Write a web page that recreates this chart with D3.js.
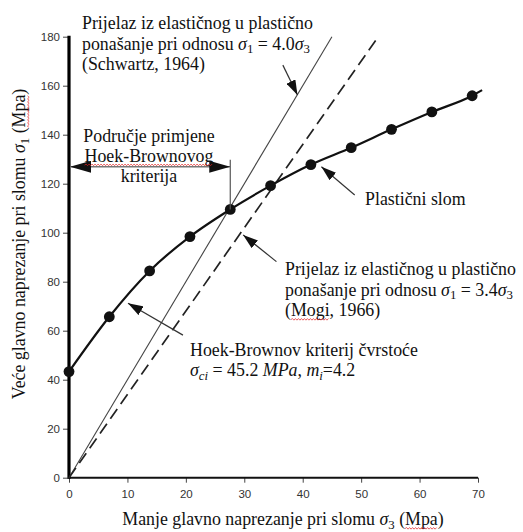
<!DOCTYPE html>
<html>
<head>
<meta charset="utf-8">
<script src="https://cdn.jsdelivr.net/npm/d3@7"></script>
<style>
  html, body { margin: 0; padding: 0; background: #fff; }
  svg { display: block; }
</style>
</head>
<body>
<svg id="chart" width="523" height="532"></svg>
<script>
// ---------- data ----------
const sigma3 = [0, 6.9, 13.8, 20.7, 27.6, 34.5, 41.4, 48.3, 55.2, 62.1, 69.0];
const sigma1 = [43.3, 65.7, 84.4, 98.4, 109.5, 119.2, 127.8, 134.7, 142.2, 149.3, 155.9];
const curveEnd = [70.7, 158.2];
const ratioSchwartz = 4.0;
const ratioMogi = 3.4;
const xTicks = [0, 10, 20, 30, 40, 50, 60, 70];
const yTicks = [0, 20, 40, 60, 80, 100, 120, 140, 160, 180];
const rangeS3 = [0, 27.6];       // Hoek-Brown applicability range
const rangeLevel = 126.9;
const rangeTop = 129.8;
// annotation arrows [tail s3, tail s1, tip s3, tip s1]
const arrowSchwartz = [36.6, 168.4, 39.1, 156.2];
const arrowPlastic  = [48.9, 115.4, 43.2, 126.9];
const arrowMogi     = [35.5, 88.2, 29.8, 99.1];
const arrowHB       = [19.5, 58.2, 10.1, 71.2];

// ---------- setup ----------
const svg = d3.select("#chart");
const x = d3.scaleLinear().domain([0, 70]).range([69, 478]);
const y = d3.scaleLinear().domain([0, 180]).range([477.7, 36.7]);
const SERIF = "'Liberation Serif', 'Times New Roman', serif";
const SANS = "'Liberation Sans', Arial, sans-serif";

// determine serif font size so that the first line matches ~230px
const probe = svg.append("text").attr("font-family", SERIF).attr("font-size", 100)
  .text("Prijelaz iz elastičnog u plastično");
const fs = 100 * 231 / probe.node().getComputedTextLength();
probe.remove();

const defs = svg.append("defs");
defs.append("marker").attr("id", "ah").attr("markerUnits", "userSpaceOnUse")
  .attr("markerWidth", 16).attr("markerHeight", 10).attr("refX", 15).attr("refY", 5)
  .attr("orient", "auto")
  .append("path").attr("d", "M0,0 L15,5 L0,10 Z").attr("fill", "#111");
defs.append("marker").attr("id", "ahBig").attr("markerUnits", "userSpaceOnUse")
  .attr("markerWidth", 22).attr("markerHeight", 12).attr("refX", 21).attr("refY", 6)
  .attr("orient", "auto-start-reverse")
  .append("path").attr("d", "M0,0 L21,6 L0,12 Z").attr("fill", "#111");

// ---------- axes ----------
const yAxis = d3.axisLeft(y).tickValues(yTicks).tickSize(6).tickPadding(3);
const gy = svg.append("g").attr("transform", `translate(${x(0)},0)`).call(yAxis);
gy.select(".domain").remove();
gy.selectAll(".tick line").attr("stroke", "#444");
gy.selectAll(".tick text").attr("font-family", SANS).attr("font-size", 11.5).attr("fill", "#333");

const xAxis = d3.axisBottom(x).tickValues(xTicks).tickSize(5).tickPadding(7);
const gx = svg.append("g").attr("transform", `translate(0,${y(0)})`).call(xAxis);
gx.select(".domain").remove();
gx.selectAll(".tick line").attr("stroke", "#444");
gx.selectAll(".tick text").attr("font-family", SANS).attr("font-size", 11.5).attr("fill", "#333");

svg.append("line").attr("x1", x(0)).attr("x2", x(70)).attr("y1", y(0)).attr("y2", y(0))
  .attr("stroke", "#111").attr("stroke-width", 2);
svg.append("line").attr("x1", x(0)).attr("x2", x(0)).attr("y1", y(0) + 1).attr("y2", y(180) - 1)
  .attr("stroke", "#000").attr("stroke-width", 3.2);

// ---------- lines ----------
const s1Max = 180;
svg.append("line").attr("x1", x(0)).attr("y1", y(0))
  .attr("x2", x(s1Max / ratioSchwartz)).attr("y2", y(s1Max))
  .attr("stroke", "#444").attr("stroke-width", 1.1);
svg.append("line").attr("x1", x(0)).attr("y1", y(0))
  .attr("x2", x(s1Max / ratioMogi)).attr("y2", y(s1Max))
  .attr("stroke", "#222").attr("stroke-width", 1.7).attr("stroke-dasharray", "12,6");

const pts = sigma3.map((v, i) => [v, sigma1[i]]);
const line = d3.line().x(d => x(d[0])).y(d => y(d[1])).curve(d3.curveMonotoneX);
svg.append("path").datum(pts.concat([curveEnd])).attr("d", line)
  .attr("fill", "none").attr("stroke", "#111").attr("stroke-width", 2.2);
svg.selectAll("circle.pt").data(pts).join("circle").attr("class", "pt")
  .attr("cx", d => x(d[0])).attr("cy", d => y(d[1])).attr("r", 5.4).attr("fill", "#111");

// ---------- range arrow ----------
svg.append("line").attr("x1", x(rangeS3[1])).attr("x2", x(rangeS3[1]))
  .attr("y1", y(rangeTop)).attr("y2", y(sigma1[4]))
  .attr("stroke", "#555").attr("stroke-width", 1.2);
svg.append("line").attr("x1", x(rangeS3[0]) + 1).attr("x2", x(rangeS3[1]))
  .attr("y1", y(rangeLevel)).attr("y2", y(rangeLevel))
  .attr("stroke", "#777").attr("stroke-width", 1.6)
  .attr("marker-start", "url(#ahBig)").attr("marker-end", "url(#ahBig)");

// ---------- annotation arrows ----------
[arrowSchwartz, arrowPlastic, arrowMogi, arrowHB].forEach(a => {
  svg.append("line").attr("x1", x(a[0])).attr("y1", y(a[1])).attr("x2", x(a[2])).attr("y2", y(a[3]))
    .attr("stroke", "#333").attr("stroke-width", 1.2).attr("marker-end", "url(#ah)");
});

// ---------- text helpers ----------
function squiggle(textSel, start, n, transform) {
  const node = textSel.node();
  const p0 = node.getStartPositionOfChar(start);
  const p1 = node.getEndPositionOfChar(start + n - 1);
  const yy = p0.y + fs * 0.2;
  let d = `M${p0.x},${yy}`;
  let up = true;
  for (let xx = p0.x + 1.5; xx <= p1.x; xx += 1.5) { d += ` L${xx},${yy + (up ? -1 : 0.6)}`; up = !up; }
  const p = svg.append("path").attr("d", d).attr("fill", "none").attr("stroke", "#e02020")
    .attr("stroke-width", 0.9).attr("opacity", 0.8);
  if (transform) p.attr("transform", transform);
}
function mathLine(g, parts) {
  let shifted = false;
  parts.forEach(([t, st]) => {
    const ts = g.append("tspan").text(t);
    if (st.includes("i")) ts.attr("font-style", "italic");
    if (st.includes("s")) {
      ts.attr("font-size", fs * 0.72);
      if (!shifted) { ts.attr("dy", fs * 0.22); shifted = true; }
    } else if (shifted) { ts.attr("dy", -fs * 0.22); shifted = false; }
  });
}
function block() {
  return svg.append("text").attr("font-family", SERIF).attr("font-size", fs)
    .attr("fill", "#111").attr("text-anchor", "start");
}

// Schwartz block
let t = block();
t.attr("x", 82).attr("y", 29).text("Prijelaz iz elastičnog u plastično");
t = block().attr("x", 82).attr("y", 49.5);
mathLine(t, [["ponašanje pri odnosu ", "n"], ["σ", "i"], ["1", "s"], [" = 4.0", "n"], ["σ", "i"], ["3", "s"]]);
block().attr("x", 82).attr("y", 69.5).text("(Schwartz, 1964)");

// Range block
block().attr("x", 149).attr("y", 142).attr("text-anchor", "middle").text("Područje primjene");
const hbv = block().attr("x", 149).attr("y", 161.5).attr("text-anchor", "middle").text("Hoek-Brownovog");
squiggle(hbv, 0, 14);
block().attr("x", 149).attr("y", 181.5).attr("text-anchor", "middle").text("kriterija");

// Plastic
block().attr("x", 365).attr("y", 205).text("Plastični slom");

// Mogi block
block().attr("x", 285).attr("y", 275).text("Prijelaz iz elastičnog u plastično");
t = block().attr("x", 285).attr("y", 295.5);
mathLine(t, [["ponašanje pri odnosu ", "n"], ["σ", "i"], ["1", "s"], [" = 3.4", "n"], ["σ", "i"], ["3", "s"]]);
const mogi = block().attr("x", 285).attr("y", 316).text("(Mogi, 1966)");
squiggle(mogi, 1, 4);

// HB block
block().attr("x", 190).attr("y", 356).text("Hoek-Brownov kriterij čvrstoće");
t = block().attr("x", 190).attr("y", 376);
mathLine(t, [["σ", "i"], ["ci", "si"], ["  = 45.2 ", "n"], ["MPa", "i"], [", ", "n"], ["m", "i"], ["i", "si"], ["=4.2", "n"]]);

// axis titles
const xl = block().attr("x", 283).attr("y", 525).attr("text-anchor", "middle");
mathLine(xl, [["Manje glavno naprezanje pri slomu ", "n"], ["σ", "i"], ["3", "s"], [" (Mpa)", "n"]]);
const ylTr = "translate(25,244) rotate(-90)";
const yl = block().attr("transform", ylTr).attr("x", 0).attr("y", 0).attr("text-anchor", "middle");
mathLine(yl, [["Veće glavno naprezanje pri slomu ", "n"], ["σ", "i"], ["1", "s"], [" (Mpa)", "n"]]);

// squiggles for "Mpa"
(function () {
  const nx = xl.node(), ny = yl.node();
  const nX = nx.getNumberOfChars(), nY = ny.getNumberOfChars();
  squiggle(xl, nX - 4, 3);
  squiggle(yl, nY - 4, 3, ylTr);
})();
</script>
</body>
</html>
